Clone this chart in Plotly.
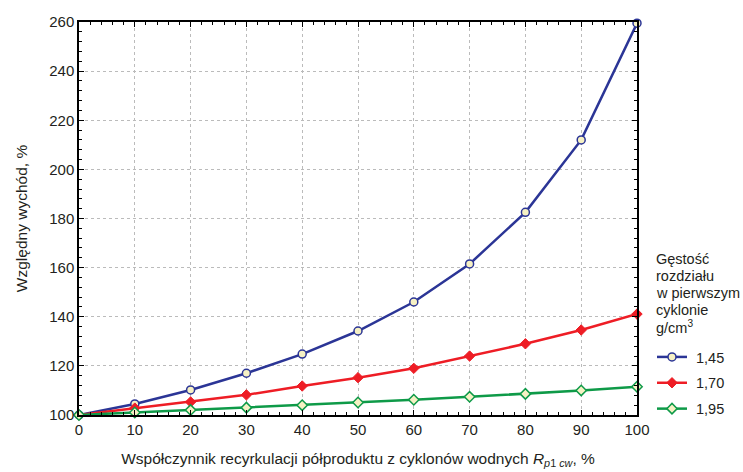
import plotly.graph_objects as go

x_vals = [0, 10, 20, 30, 40, 50, 60, 70, 80, 90, 100]
y_145 = [100, 104.5, 110.2, 117.0, 124.8, 134.2, 146.0, 161.5, 182.5, 212.0, 259.5]
y_170 = [100, 102.8, 105.3, 108.2, 111.8, 115.2, 119.0, 124.0, 129.0, 134.6, 141.1]
y_195 = [100, 101.0, 102.0, 103.0, 104.0, 105.1, 106.2, 107.4, 108.6, 110.0, 111.5]
series_names = ["1,45", "1,70", "1,95"]
legend_title_lines = ["Gęstość", "rozdziału", "w pierwszym", "cyklonie", "g/cm<sup>3</sup>"]

font_family = "Liberation Sans, Arial, sans-serif"
txt = "#231F20"
pad = "\u00a0"

fig = go.Figure()
fig.add_trace(go.Scatter(x=x_vals, y=y_145, name=pad + series_names[0], mode="lines+markers",
                         cliponaxis=False, legendgroup="a",
                         line=dict(color="#2B3596", width=2.5),
                         marker=dict(symbol="circle", size=8, color="#F6F1C4",
                                     line=dict(color="#2B3596", width=1.5))))
fig.add_trace(go.Scatter(x=x_vals, y=y_170, name=pad + series_names[1], mode="lines+markers",
                         cliponaxis=False, legendgroup="b",
                         line=dict(color="#EE1D25", width=2.5),
                         marker=dict(symbol="diamond", size=8, color="#EE1D25",
                                     line=dict(color="#EE1D25", width=1))))
fig.add_trace(go.Scatter(x=x_vals, y=y_195, name=pad + series_names[2], mode="lines+markers",
                         cliponaxis=False, legendgroup="c",
                         line=dict(color="#0E9A48", width=2.5),
                         marker=dict(symbol="diamond", size=8, color="#F6F1C4",
                                     line=dict(color="#0E9A48", width=1.5))))

axis_common = dict(showline=True, linecolor="black", linewidth=1.5, mirror="ticks",
                   ticks="inside", ticklen=5, tickcolor="black", zeroline=False,
                   showgrid=True, gridcolor="#BBBBBB", griddash="dot", gridwidth=1,
                   automargin=False,
                   tickfont=dict(size=15, color=txt, family=font_family))

fig.update_xaxes(range=[0, 100], tickvals=x_vals,
                 minor=dict(dtick=2, ticks="inside", ticklen=3, tickcolor="black", showgrid=False),
                 title=dict(text="Współczynnik recyrkulacji półproduktu z cyklonów wodnych <i>R</i><sub><i>p</i>1 <i>cw</i></sub>, %",
                            font=dict(size=15.5, color=txt, family=font_family), standoff=16),
                 **axis_common)
fig.update_yaxes(range=[100, 260], tickvals=[100, 120, 140, 160, 180, 200, 220, 240, 260],
                 minor=dict(dtick=4, ticks="inside", ticklen=3, tickcolor="black", showgrid=False),
                 title=dict(text="Względny wychód, %",
                            font=dict(size=15.5, color=txt, family=font_family), standoff=18),
                 **axis_common)

W, H = 743, 472
L, R, T, B = 79, 106, 22, 57
plot_w = W - L - R
plot_h = H - T - B

for i, line in enumerate(legend_title_lines):
    fig.add_annotation(text=line, xref="paper", yref="paper",
                       x=(655 - L) / plot_w, y=(H - B - (259 + 17 * i)) / plot_h,
                       xanchor="left", yanchor="middle", showarrow=False, borderpad=0,
                       font=dict(size=14.5, color=txt, family=font_family))

fig.update_layout(
    width=W, height=H,
    margin=dict(l=L, r=R, t=T, b=B),
    plot_bgcolor="white", paper_bgcolor="white",
    font=dict(family=font_family, size=14.5, color=txt),
    legend=dict(x=(652 - L) / plot_w, y=(H - B - (354 - 13)) / plot_h,
                xanchor="left", yanchor="top",
                font=dict(size=14.5, family=font_family, color=txt),
                itemwidth=30, tracegroupgap=4, traceorder="grouped",
                bgcolor="rgba(0,0,0,0)"),
    showlegend=True,
)

fig.write_html("out.html", config={"displayModeBar": False},
               post_script="document.body.style.margin='0';document.body.style.overflow='hidden';")
